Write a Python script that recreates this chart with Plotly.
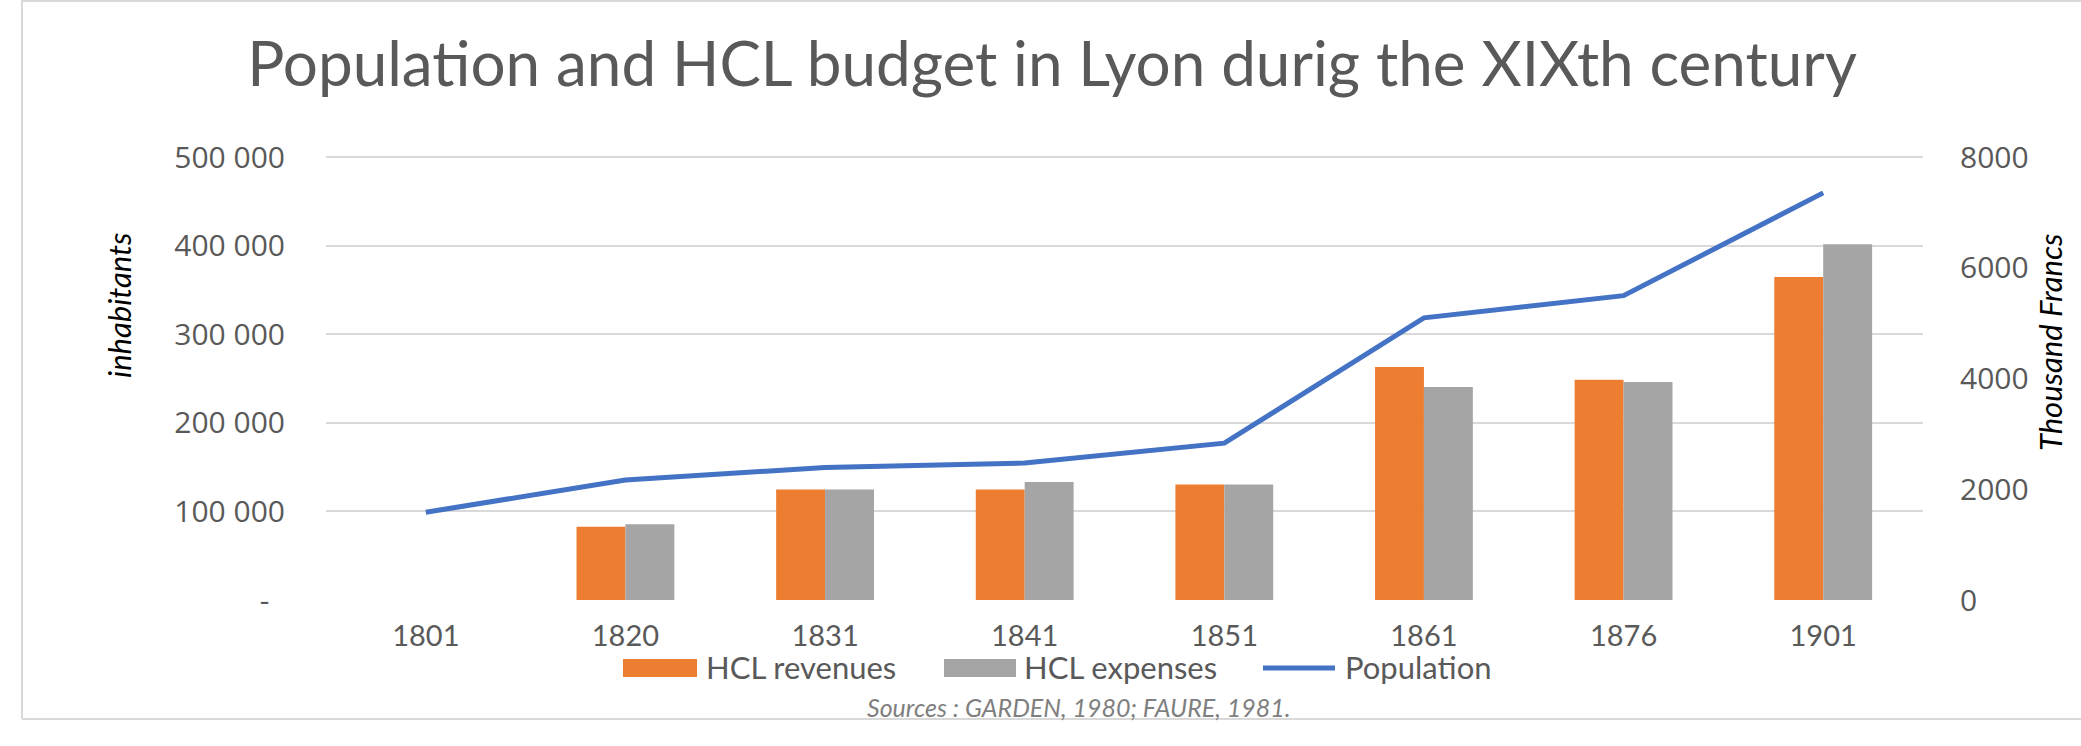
import plotly.graph_objects as go

# ---------------- data ----------------
years = ["1801", "1820", "1831", "1841", "1851", "1861", "1876", "1901"]
population = [99000, 135500, 149500, 154500, 177000, 318500, 343500, 459500]
hcl_revenues = [None, 1322, 1995, 1995, 2085, 4207, 3978, 5835]
hcl_expenses = [None, 1370, 1995, 2133, 2085, 3846, 3936, 6425]

left_tickvals = [0, 100000, 200000, 300000, 400000, 500000]
left_ticktext = ["-\u00a0\u00a0", "100 000", "200 000", "300 000", "400 000", "500 000"]
right_tickvals = [0, 2000, 4000, 6000, 8000]
right_ticktext = ["0", "2000", "4000", "6000", "8000"]

title_text = "Population and HCL budget in Lyon durig the XIXth century"
source_text = "Sources : GARDEN, 1980; FAURE, 1981."

# ---------------- layout geometry ----------------
W, H = 2081, 746
PL, PR, PB = 326, 1923, 600   # plot area in pixels
Y500 = 157                    # pixel row of the 500 000 gridline
PT = Y500 - 2                 # a little slack so the top gridline is drawn
slack = (PB - PT) / (PB - Y500)

ORANGE = "#ED7D31"
GREY = "#A5A5A5"
BLUE = "#4472C4"
TXT = "#595959"
GRID = "#D9D9D9"


def px(x):
    return (x - PL) / (PR - PL)


def py(y):
    return (PB - y) / (PB - PT)


fig = go.Figure()

fig.add_trace(go.Bar(
    x=years, y=hcl_revenues, name="HCL revenues",
    marker=dict(color=ORANGE, line=dict(width=0)),
    yaxis="y", showlegend=False,
))
fig.add_trace(go.Bar(
    x=years, y=hcl_expenses, name="HCL expenses",
    marker=dict(color=GREY, line=dict(width=0)),
    yaxis="y", showlegend=False,
))
fig.add_trace(go.Scatter(
    x=years, y=population, name="Population", mode="lines",
    line=dict(color=BLUE, width=5),
    yaxis="y2", showlegend=False,
))

tick_font = dict(family="Open Sans, Segoe UI, Arial", size=30, color=TXT)
cal = "Lato, Carlito, Calibri"

shapes = [
    # chart border (left, top, bottom)
    dict(type="line", xref="paper", yref="paper",
         x0=px(22), x1=px(22), y0=py(0), y1=py(719),
         line=dict(color=GRID, width=2)),
    dict(type="line", xref="paper", yref="paper",
         x0=px(22), x1=px(2100), y0=py(1), y1=py(1),
         line=dict(color=GRID, width=2)),
    dict(type="line", xref="paper", yref="paper",
         x0=px(22), x1=px(2100), y0=py(719), y1=py(719),
         line=dict(color=GRID, width=2)),
    # legend swatches
    dict(type="rect", xref="paper", yref="paper",
         x0=px(623), x1=px(697), y0=py(659), y1=py(677),
         fillcolor=ORANGE, line=dict(width=0)),
    dict(type="rect", xref="paper", yref="paper",
         x0=px(944), x1=px(1016), y0=py(659), y1=py(677),
         fillcolor=GREY, line=dict(width=0)),
    dict(type="line", xref="paper", yref="paper",
         x0=px(1263), x1=px(1335), y0=py(668), y1=py(668),
         line=dict(color=BLUE, width=5)),
]

leg_font = dict(family=cal, size=31, color=TXT)
LEGY = 667
annotations = [
    dict(text="HCL revenues", x=px(704), y=py(LEGY), xref="paper", yref="paper",
         xanchor="left", yanchor="middle", showarrow=False, font=leg_font),
    dict(text="HCL expenses", x=px(1022), y=py(LEGY), xref="paper", yref="paper",
         xanchor="left", yanchor="middle", showarrow=False, font=leg_font),
    dict(text="Population", x=px(1343), y=py(LEGY), xref="paper", yref="paper",
         xanchor="left", yanchor="middle", showarrow=False, font=leg_font),
    dict(text="<i>" + source_text + "</i>", x=px(1078), y=py(707), xref="paper", yref="paper",
         xanchor="center", yanchor="middle", showarrow=False,
         font=dict(family=cal, size=25, color="#7F7F7F")),
    dict(text="<i>inhabitants</i>", x=px(119), y=py(305), xref="paper", yref="paper",
         xanchor="center", yanchor="middle", showarrow=False, textangle=-90,
         font=dict(family=cal, size=31, color="#000000")),
    dict(text="<i>Thousand Francs</i>", x=px(2050), y=py(343), xref="paper", yref="paper",
         xanchor="center", yanchor="middle", showarrow=False, textangle=-90,
         font=dict(family=cal, size=31, color="#000000")),
]

fig.update_layout(
    width=W, height=H, autosize=False,
    margin=dict(l=PL, r=W - PR, t=PT, b=H - PB, pad=0),
    paper_bgcolor="white", plot_bgcolor="white",
    barmode="group", bargap=0.51, bargroupgap=0,
    title=dict(text=title_text, x=1052 / W, xanchor="center",
               y=1 - 64 / H, yanchor="middle", yref="container",
               font=dict(family=cal, size=62, color=TXT)),
    xaxis=dict(type="category", showgrid=False, showline=False, zeroline=False,
               ticks="outside", ticklen=10, tickcolor="rgba(0,0,0,0)",
               tickfont=dict(family=cal, size=29, color=TXT)),
    yaxis=dict(side="right", range=[0, 8000 * slack], tickvals=right_tickvals, ticktext=right_ticktext,
               showgrid=False, zeroline=False, showline=False,
               ticks="outside", ticklen=30, tickcolor="rgba(0,0,0,0)",
               tickfont=tick_font),
    yaxis2=dict(side="left", overlaying="y", range=[0, 500000 * slack],
                tickvals=left_tickvals, ticktext=left_ticktext,
                showgrid=True, gridcolor=GRID, gridwidth=2,
                zeroline=False, showline=False,
                ticks="outside", ticklen=34, tickcolor="rgba(0,0,0,0)",
                tickfont=tick_font),
    shapes=shapes,
    annotations=annotations,
    showlegend=False,
)

fig.write_html("out.html", config={"displayModeBar": False},
               post_script="document.body.style.margin='0px';")
